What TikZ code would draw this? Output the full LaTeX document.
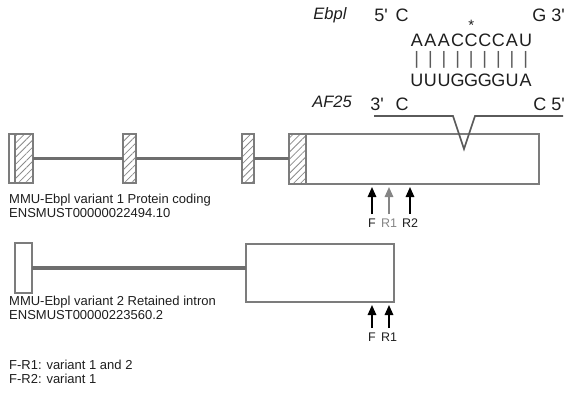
\documentclass[tikz,border=0pt]{standalone}
\usepackage{fontspec}
\setmainfont{Liberation Sans}
\usetikzlibrary{arrows.meta,patterns.meta}
\definecolor{txt}{HTML}{1E1E1E}
\definecolor{boxgray}{HTML}{7C7C7C}
\definecolor{intgray}{HTML}{6E6E6E}
\definecolor{hatchgray}{HTML}{8A8A8A}
\definecolor{seqgray}{HTML}{5A5A5A}
\definecolor{r1gray}{HTML}{858585}
\begin{document}
\begin{tikzpicture}[x=1pt,y=-1pt,
  exon/.style={draw=boxgray, line width=2.2pt, inner sep=0, outer sep=0, rectangle},
  hatched/.style={exon, pattern={Lines[angle=45,distance=5pt,line width=0.8pt]}, pattern color=hatchgray},
  intron/.style={draw=intgray, line width=3.2pt},
  lbl/.style={anchor=west, inner sep=0, text=txt, font=\fontsize{13}{14.5}\selectfont, align=left},
  plbl/.style={inner sep=0, text=txt, font=\fontsize{12.5}{14}\selectfont},
  seq/.style={inner sep=0, text=txt, font=\fontsize{18}{20}\selectfont},
  primer/.style={-{Triangle[width=8.5pt,length=10pt]}, line width=1.6pt, draw=black},
  seqline/.style={draw=seqgray, line width=1.6pt}]
\useasboundingbox (0,0) rectangle (566,392);

% ---- variant 1 ----
\node[exon, minimum width=6pt, minimum height=49pt] (a1) at (12,158.5) {};
\node[hatched, minimum width=18pt, minimum height=49pt] (a1h) at (24,158.5) {};
\node[hatched, minimum width=13pt, minimum height=49pt] (a2) at (129.5,158.5) {};
\node[hatched, minimum width=12pt, minimum height=49pt] (a3) at (248,158.5) {};
\node[hatched, minimum width=17pt, minimum height=50pt] (a4h) at (297.5,159) {};
\node[exon, minimum width=233pt, minimum height=50pt] (a4) at (422.5,159) {};
\draw[intron] (a1h.east) -- (a2.west);
\draw[intron] (a2.east) -- (a3.west);
\draw[intron] (a3.east) -- (a3.east -| a4h.west);

\node[lbl] (v1name) at (9,206) {MMU-Ebpl variant 1 Protein coding\\ENSMUST00000022494.10};

% primers variant 1
\node[plbl] (F1) at (372,223) {F};
\node[plbl, text=r1gray] (R11) at (389,223) {R1};
\node[plbl] (R21) at (410,223) {R2};
\coordinate (F1t) at (372,187);
\coordinate (R11t) at (389,187);
\coordinate (R21t) at (410,187);
\coordinate (F1s) at (372,214);
\draw[primer] (F1s) -- (F1t);
\draw[primer, draw=r1gray] (F1s -| R11t) -- (R11t);
\draw[primer] (F1s -| R21t) -- (R21t);

% ---- variant 2 ----
\node[exon, minimum width=17pt, minimum height=50pt] (b1) at (23.5,268) {};
\node[exon, minimum width=148pt, minimum height=58pt] (b2) at (320,273) {};
\draw[intron] (b1.east) -- (b1.east -| b2.west);

\node[lbl] (v2name) at (9,308) {MMU-Ebpl variant 2 Retained intron\\ENSMUST00000223560.2};

\node[plbl] (F2) at (372,337) {F};
\node[plbl] (R12) at (389,337) {R1};
\coordinate (F2t) at (372,305);
\coordinate (R12t) at (389,305);
\coordinate (F2s) at (372,328);
\draw[primer] (F2s) -- (F2t);
\draw[primer] (F2s -| R12t) -- (R12t);

% legend
\node[lbl] (legend) at (9,372) {F-R1: variant 1 and 2\\F-R2: variant 1};

% ---- sequence pairing ----
\node[seq, anchor=east, font=\fontsize{16.5}{19}\selectfont] (ebpl) at (347,15) {\textit{Ebpl}};
\node[seq] (p5a) at (381,15) {5\textquotesingle};
\node[seq] (c5a) at (402,15) {C};
\node[seq, anchor=east] (g3a) at (565,15) {G 3\textquotesingle};
\foreach \ch [count=\i from 0] in {A,A,A,C,C,C,C,A,U} {
  \node[seq] (top\i) at (416.8+13.6*\i,40) {\ch};
  \node[seq, text=seqgray] (bar\i) at (416.8+13.6*\i,60) {|};
}
\foreach \ch [count=\i from 0] in {U,U,U,G,G,G,G,U,A} {
  \node[seq] (bot\i) at (416.8+13.6*\i,80) {\ch};
}
\node[seq, font=\fontsize{15}{16}\selectfont, anchor=north] (star) at (top4 |- 0,19.5) {*};
\node[seq, anchor=east, font=\fontsize{16.5}{19}\selectfont] (af25) at (352,102) {\textit{AF25}};
\node[seq] (p3b) at (377,104) {3\textquotesingle};
\node[seq] (c3b) at (402,104) {C};
\node[seq, anchor=east] (c5b) at (565,104) {C 5\textquotesingle};

\coordinate (l1) at (374,116);
\coordinate (l2) at (453,116);
\coordinate (l3) at (464,149);
\coordinate (l4) at (475,116);
\coordinate (l5) at (563,116);
\draw[seqline, line join=miter] (l1) -- (l2) -- (l3) -- (l4) -- (l5);
\end{tikzpicture}
\end{document}
